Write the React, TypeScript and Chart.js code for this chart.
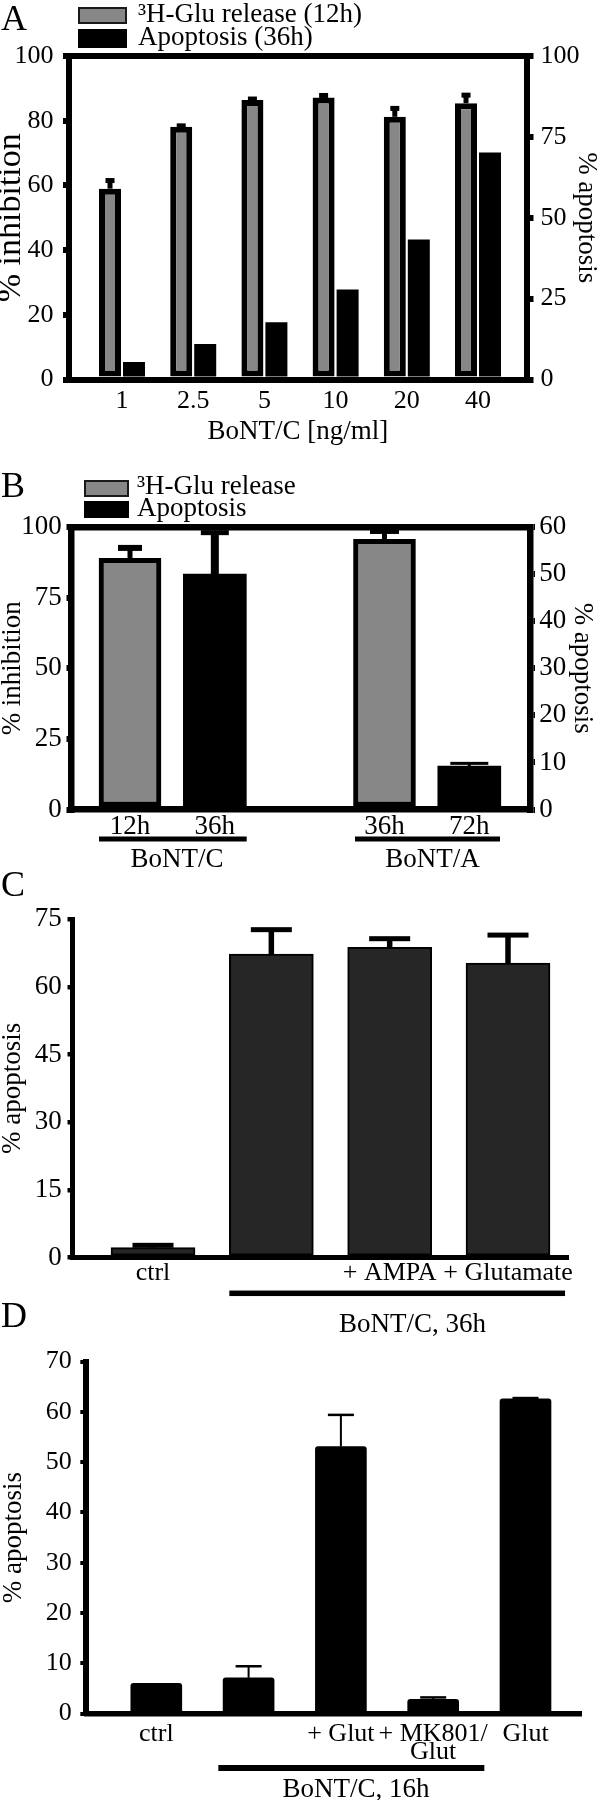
import React, { useEffect, useRef } from 'react';
import { Chart, registerables } from 'chart.js';

Chart.register(...registerables);

const FONT = "'Liberation Serif', 'Times New Roman', serif";
const BLACK = '#000000';
const GRAY = '#878787';
const DARK = '#262626';

// ---------- Panel A ----------
const doseLabels = ['1', '2.5', '5', '10', '20', '40'];
const doseX = [1, 2, 3, 4, 5, 6];
const gluRelease12h = [59.0, 78.1, 86.4, 87.2, 81.2, 85.4];
const gluRelease12hErr = [2.5, 0.3, 0.3, 0.6, 2.6, 2.5];
const apoptosis36h = [5.4, 11.0, 17.7, 27.8, 43.3, 70.2];
const legendA = ['³H-Glu release (12h)', 'Apoptosis (36h)'];

// ---------- Panel B ----------
const timeLabelsB = ['12h', '36h', '36h', '72h'];
const timeXB = [1, 2, 4, 5];
const gluXB = [1, 4];
const gluReleaseB = [88.9, 95.6];
const gluReleaseBErr = [3.7, 3.0];
const apoXB = [2, 5];
const apoptosisB = [50.0, 9.2];
const apoptosisBErr = [8.8, 0.6];
const toxinGroupsB = ['BoNT/C', 'BoNT/A'];
const legendB = ['³H-Glu release', 'Apoptosis'];

// ---------- Panel C ----------
const labelsC = ['ctrl', '', '+ AMPA', '+ Glutamate'];
const xC = [1, 2, 3, 4];
const apoptosisC = [2.2, 67.3, 68.8, 65.3];
const apoptosisCErr = [0.5, 5.4, 1.9, 6.2];
const groupC = 'BoNT/C, 36h';

// ---------- Panel D ----------
const labelsD: (string | string[])[] = ['ctrl', '', '+ Glut', ['+ MK801/', 'Glut'], 'Glut'];
const xD = [1, 2, 3, 4, 5];
const apoptosisD = [6.0, 7.1, 53.1, 2.8, 62.6];
const apoptosisDErr = [0, 2.3, 6.3, 0.4, 0.15];
const groupD = 'BoNT/C, 16h';

// ---------- helpers ----------
type ErrSpec = {
  datasetIndex: number;
  errors: number[];
  lineWidth: number | number[];
  capWidth: number | number[];
  capThickness: number | number[];
};

function errorBarPlugin(specs: ErrSpec[]) {
  const pick = (v: number | number[], i: number) => (Array.isArray(v) ? v[i] : v);
  return {
    id: 'errorBars',
    afterDatasetsDraw(chart: any) {
      const ctx = chart.ctx;
      ctx.save();
      ctx.fillStyle = BLACK;
      for (const s of specs) {
        const meta = chart.getDatasetMeta(s.datasetIndex);
        const yScale = chart.scales[meta.yAxisID];
        const data = chart.data.datasets[s.datasetIndex].data;
        meta.data.forEach((el: any, i: number) => {
          const err = s.errors[i];
          if (!err) return;
          const v = data[i].y;
          const yTop = yScale.getPixelForValue(v + err);
          const yBar = yScale.getPixelForValue(v);
          const lw = pick(s.lineWidth, i);
          const cw = pick(s.capWidth, i);
          const ct = pick(s.capThickness, i);
          ctx.fillRect(el.x - lw / 2, yTop, lw, yBar - yTop);
          ctx.fillRect(el.x - cw / 2, yTop - ct / 2, cw, ct);
        });
      }
      ctx.restore();
    },
  };
}

type Group = { from: number; to: number; at: number; text: string };
function groupLinePlugin(groups: Group[], lineY: number, lineWidth: number, baseline: number, fontSize: number) {
  return {
    id: 'groupLines',
    afterDraw(chart: any) {
      const xs = chart.scales.x;
      const ctx = chart.ctx;
      ctx.save();
      ctx.fillStyle = BLACK;
      ctx.font = `${fontSize}px ${FONT}`;
      ctx.textAlign = 'center';
      ctx.textBaseline = 'alphabetic';
      for (const g of groups) {
        const x1 = xs.getPixelForValue(g.from);
        const x2 = xs.getPixelForValue(g.to);
        ctx.fillRect(x1, lineY - lineWidth / 2, x2 - x1, lineWidth);
        ctx.fillText(g.text, xs.getPixelForValue(g.at), baseline);
      }
      ctx.restore();
    },
  };
}

type YOpts = {
  position: 'left' | 'right';
  max: number;
  step: number;
  width: number;
  tickLen: number;
  tickW: number;
  axisW: number;
  pad: number;
  title: string;
  titleSize: number;
  titleLH: number;
  titlePad: number;
  fontSize?: number;
};
function yAxis(o: YOpts) {
  return {
    type: 'linear',
    position: o.position,
    min: 0,
    max: o.max,
    afterFit: (s: any) => {
      s.width = o.width;
    },
    ticks: {
      stepSize: o.step,
      padding: o.pad,
      color: BLACK,
      font: { family: FONT, size: o.fontSize ?? 26, lineHeight: 1 },
    },
    grid: {
      display: true,
      drawOnChartArea: false,
      drawTicks: true,
      tickLength: o.tickLen,
      lineWidth: o.tickW,
      color: BLACK,
    },
    border: { display: true, width: o.axisW, color: BLACK, z: 1 },
    title: {
      display: true,
      text: o.title,
      color: BLACK,
      font: { family: FONT, size: o.titleSize, lineHeight: o.titleLH },
      padding: { top: o.titlePad, bottom: 0 },
    },
  };
}

type XOpts = {
  min: number;
  max: number;
  values: number[];
  labels: (string | string[])[];
  height: number;
  pad: number;
  axisW: number;
  fontSize?: number;
  lineHeight?: number;
  title?: string;
  titlePadBottom?: number;
};
function xAxis(o: XOpts) {
  return {
    type: 'linear',
    position: 'bottom',
    offset: false,
    min: o.min,
    max: o.max,
    afterFit: (s: any) => {
      s.height = o.height;
    },
    afterBuildTicks: (s: any) => {
      s.ticks = o.values.map((v) => ({ value: v }));
    },
    ticks: {
      autoSkip: false,
      maxRotation: 0,
      minRotation: 0,
      padding: o.pad,
      color: BLACK,
      font: { family: FONT, size: o.fontSize ?? 26, lineHeight: o.lineHeight ?? 1 },
      callback: (_v: any, i: number) => o.labels[i],
    },
    grid: { display: false, drawTicks: false, tickLength: 0, offset: false },
    border: { display: true, width: o.axisW, color: BLACK, z: 1 },
    title: o.title
      ? {
          display: true,
          text: o.title,
          color: BLACK,
          font: { family: FONT, size: 27, lineHeight: 1 },
          padding: { top: 0, bottom: o.titlePadBottom ?? 0 },
        }
      : { display: false },
  };
}

function topFrame(min: number, max: number, w: number) {
  return {
    type: 'linear',
    position: 'top',
    offset: false,
    min,
    max,
    afterFit: (s: any) => {
      s.height = 0;
    },
    ticks: { display: false },
    grid: { display: false, drawTicks: false, tickLength: 0 },
    border: { display: true, width: w, color: BLACK, z: 1 },
  };
}

const baseOptions = {
  responsive: false,
  maintainAspectRatio: false,
  animation: false,
  devicePixelRatio: 1,
  events: [],
};
const noLegend = { legend: { display: false }, tooltip: { enabled: false } };

// ---------- chart builders ----------
function buildA(): any {
  const min = 0.2555;
  const max = 6.681;
  return {
    type: 'bar',
    data: {
      datasets: [
        {
          label: legendA[0],
          data: doseX.map((x, i) => ({ x, y: gluRelease12h[i] })),
          yAxisID: 'y',
          backgroundColor: GRAY,
          borderColor: BLACK,
          borderWidth: 6,
          borderSkipped: false,
          categoryPercentage: 0.674,
          barPercentage: 0.917,
        },
        {
          label: legendA[1],
          data: doseX.map((x, i) => ({ x, y: apoptosis36h[i] })),
          yAxisID: 'y1',
          backgroundColor: BLACK,
          borderWidth: 0,
          categoryPercentage: 0.674,
          barPercentage: 0.917,
        },
      ],
    },
    options: {
      ...baseOptions,
      layout: { padding: { top: 56, left: 0, right: 0, bottom: 0 } },
      plugins: noLegend,
      scales: {
        x: xAxis({
          min,
          max,
          values: doseX,
          labels: doseLabels,
          height: 70.5,
          pad: 9,
          axisW: 6,
          title: 'BoNT/C [ng/ml]',
          titlePadBottom: 4.6,
        }),
        xTop: topFrame(min, max, 6),
        y: yAxis({
          position: 'left',
          max: 100,
          step: 20,
          width: 69,
          tickLen: 6,
          tickW: 6,
          axisW: 6,
          pad: 9.5,
          title: '% inhibition',
          titleSize: 34,
          titleLH: 0.65,
          titlePad: 0,
        }),
        y1: yAxis({
          position: 'right',
          max: 100,
          step: 25,
          width: 73.5,
          tickLen: 7,
          tickW: 6,
          axisW: 6,
          pad: 7,
          title: '% apoptosis',
          titleSize: 27,
          titleLH: 1,
          titlePad: 0,
        }),
      },
    },
    plugins: [
      errorBarPlugin([
        { datasetIndex: 0, errors: gluRelease12hErr, lineWidth: 5, capWidth: 9, capThickness: 5 },
      ]),
    ],
  };
}

function buildB(): any {
  const min = 0.3103;
  const max = 5.7156;
  return {
    type: 'bar',
    data: {
      datasets: [
        {
          label: legendB[0],
          data: gluXB.map((x, i) => ({ x, y: gluReleaseB[i] })),
          yAxisID: 'y',
          backgroundColor: GRAY,
          borderColor: BLACK,
          borderWidth: 5,
          borderSkipped: false,
          grouped: false,
          barThickness: 62,
        },
        {
          label: legendB[1],
          data: apoXB.map((x, i) => ({ x, y: apoptosisB[i] })),
          yAxisID: 'y1',
          backgroundColor: BLACK,
          borderWidth: 0,
          grouped: false,
          barThickness: 63,
        },
      ],
    },
    options: {
      ...baseOptions,
      layout: { padding: { top: 77, left: 0, right: 0, bottom: 0 } },
      plugins: noLegend,
      scales: {
        x: xAxis({
          min,
          max,
          values: timeXB,
          labels: timeLabelsB,
          height: 90.5,
          pad: 4,
          axisW: 6.5,
          fontSize: 27,
        }),
        xTop: topFrame(min, max, 6.5),
        y: yAxis({
          position: 'left',
          max: 100,
          step: 25,
          width: 71.5,
          tickLen: 5,
          tickW: 6,
          axisW: 6.5,
          pad: 4.8,
          title: '% inhibition',
          titleSize: 27,
          titleLH: 0.92,
          titlePad: 0,
          fontSize: 27,
        }),
        y1: yAxis({
          position: 'right',
          max: 60,
          step: 10,
          width: 70,
          tickLen: 5,
          tickW: 6,
          axisW: 6.5,
          pad: 4.3,
          title: '% apoptosis',
          titleSize: 27,
          titleLH: 1,
          titlePad: 4.5,
          fontSize: 27,
        }),
      },
    },
    plugins: [
      errorBarPlugin([
        { datasetIndex: 0, errors: gluReleaseBErr, lineWidth: 5, capWidth: [24, 29], capThickness: 6 },
        { datasetIndex: 1, errors: apoptosisBErr, lineWidth: [8, 3], capWidth: [28, 38], capThickness: [5, 3] },
      ]),
      groupLinePlugin(
        [
          { from: 0.6345, to: 2.3758, at: 1.554, text: toxinGroupsB[0] },
          { from: 3.6525, to: 5.362, at: 4.566, text: toxinGroupsB[1] },
        ],
        389,
        5,
        416.7,
        27
      ),
    ],
  };
}

function buildC(): any {
  return {
    type: 'bar',
    data: {
      datasets: [
        {
          label: '% apoptosis',
          data: xC.map((x, i) => ({ x, y: apoptosisC[i] })),
          yAxisID: 'y',
          backgroundColor: DARK,
          borderColor: BLACK,
          borderWidth: 2,
          borderSkipped: false,
          grouped: false,
          barThickness: 84,
        },
      ],
    },
    options: {
      ...baseOptions,
      layout: { padding: { top: 18.5, left: 0, right: 32, bottom: 0 } },
      plugins: noLegend,
      scales: {
        x: xAxis({
          min: 0.3197,
          max: 4.507,
          values: xC,
          labels: labelsC,
          height: 82.5,
          pad: 2.7,
          axisW: 5,
        }),
        y: yAxis({
          position: 'left',
          max: 75,
          step: 15,
          width: 72.5,
          tickLen: 5,
          tickW: 4.5,
          axisW: 5,
          pad: 5.8,
          title: '% apoptosis',
          titleSize: 27,
          titleLH: 0.96,
          titlePad: 0,
          fontSize: 27,
        }),
      },
    },
    plugins: [
      errorBarPlugin([
        { datasetIndex: 0, errors: apoptosisCErr, lineWidth: 5.5, capWidth: 41, capThickness: 5 },
      ]),
      groupLinePlugin([{ from: 1.645, to: 4.482, at: 3.193, text: groupC }], 393.3, 5.5, 431.7, 27),
    ],
  };
}

function buildD(): any {
  return {
    type: 'bar',
    data: {
      datasets: [
        {
          label: '% apoptosis',
          data: xD.map((x, i) => ({ x, y: apoptosisD[i] })),
          yAxisID: 'y',
          backgroundColor: BLACK,
          borderWidth: 0,
          borderRadius: 3,
          borderSkipped: 'start',
          grouped: false,
          barThickness: 51,
        },
      ],
    },
    options: {
      ...baseOptions,
      layout: { padding: { top: 18.8, left: 0, right: 18.3, bottom: 0 } },
      plugins: noLegend,
      scales: {
        x: xAxis({
          min: 0.2416,
          max: 5.609,
          values: xD,
          labels: labelsD,
          height: 86.5,
          pad: 12.1,
          axisW: 5.5,
          lineHeight: 0.68,
        }),
        y: yAxis({
          position: 'left',
          max: 70,
          step: 10,
          width: 86.3,
          tickLen: 6,
          tickW: 4,
          axisW: 6,
          pad: 8.6,
          title: '% apoptosis',
          titleSize: 27,
          titleLH: 1,
          titlePad: 0,
        }),
      },
    },
    plugins: [
      errorBarPlugin([
        { datasetIndex: 0, errors: apoptosisDErr, lineWidth: 2, capWidth: 26, capThickness: 2.5 },
      ]),
      groupLinePlugin([{ from: 1.672, to: 4.554, at: 3.164, text: groupD }], 428, 6, 457, 27),
    ],
  };
}

// ---------- components ----------
function ChartCanvas({ top, height, build }: { top: number; height: number; build: () => any }) {
  const ref = useRef<HTMLCanvasElement | null>(null);
  useEffect(() => {
    if (!ref.current) return;
    const chart = new Chart(ref.current, build());
    return () => chart.destroy();
  }, []);
  return (
    <div style={{ position: 'absolute', left: 0, top, width: 600, height }}>
      <canvas ref={ref} width={600} height={height} style={{ display: 'block', width: 600, height }} />
    </div>
  );
}

function PanelLetter({ text, top }: { text: string; top: number }) {
  return (
    <div
      style={{
        position: 'absolute',
        left: 1,
        top,
        fontFamily: FONT,
        fontSize: 36,
        lineHeight: '36px',
        color: BLACK,
        whiteSpace: 'nowrap',
      }}
    >
      {text}
    </div>
  );
}

type LegendItem = { label: string; fill: string; outlined: boolean; boxTop: number; boxH: number; textTop: number };
function Legend({ left, boxW, textLeft, items }: { left: number; boxW: number; textLeft: number; items: LegendItem[] }) {
  return (
    <>
      {items.map((it, i) => (
        <React.Fragment key={i}>
          <div
            style={{
              position: 'absolute',
              left,
              top: it.boxTop,
              width: boxW,
              height: it.boxH,
              background: it.fill,
              border: it.outlined ? '2px solid #1a1a1a' : 'none',
              boxSizing: 'border-box',
            }}
          />
          <div
            style={{
              position: 'absolute',
              left: textLeft,
              top: it.textTop,
              fontFamily: FONT,
              fontSize: 27,
              lineHeight: '27px',
              color: BLACK,
              whiteSpace: 'nowrap',
            }}
          >
            {it.label}
          </div>
        </React.Fragment>
      ))}
    </>
  );
}

export default function App() {
  return (
    <div
      style={{
        position: 'absolute',
        left: 0,
        top: 0,
        width: 600,
        height: 1800,
        background: '#ffffff',
        overflow: 'hidden',
      }}
    >
      <ChartCanvas top={0} height={450} build={buildA} />
      <ChartCanvas top={450} height={450} build={buildB} />
      <ChartCanvas top={900} height={440} build={buildC} />
      <ChartCanvas top={1340} height={460} build={buildD} />

      <PanelLetter text="A" top={0} />
      <PanelLetter text="B" top={467} />
      <PanelLetter text="C" top={866} />
      <PanelLetter text="D" top={1297} />

      <Legend
        left={78}
        boxW={49}
        textLeft={138}
        items={[
          { label: legendA[0], fill: GRAY, outlined: true, boxTop: 7, boxH: 17, textTop: 0.4 },
          { label: legendA[1], fill: BLACK, outlined: false, boxTop: 29, boxH: 19, textTop: 23.4 },
        ]}
      />
      <Legend
        left={84}
        boxW={45}
        textLeft={137}
        items={[
          { label: legendB[0], fill: GRAY, outlined: true, boxTop: 480, boxH: 17, textTop: 472.4 },
          { label: legendB[1], fill: BLACK, outlined: false, boxTop: 501, boxH: 17, textTop: 494.4 },
        ]}
      />
    </div>
  );
}
